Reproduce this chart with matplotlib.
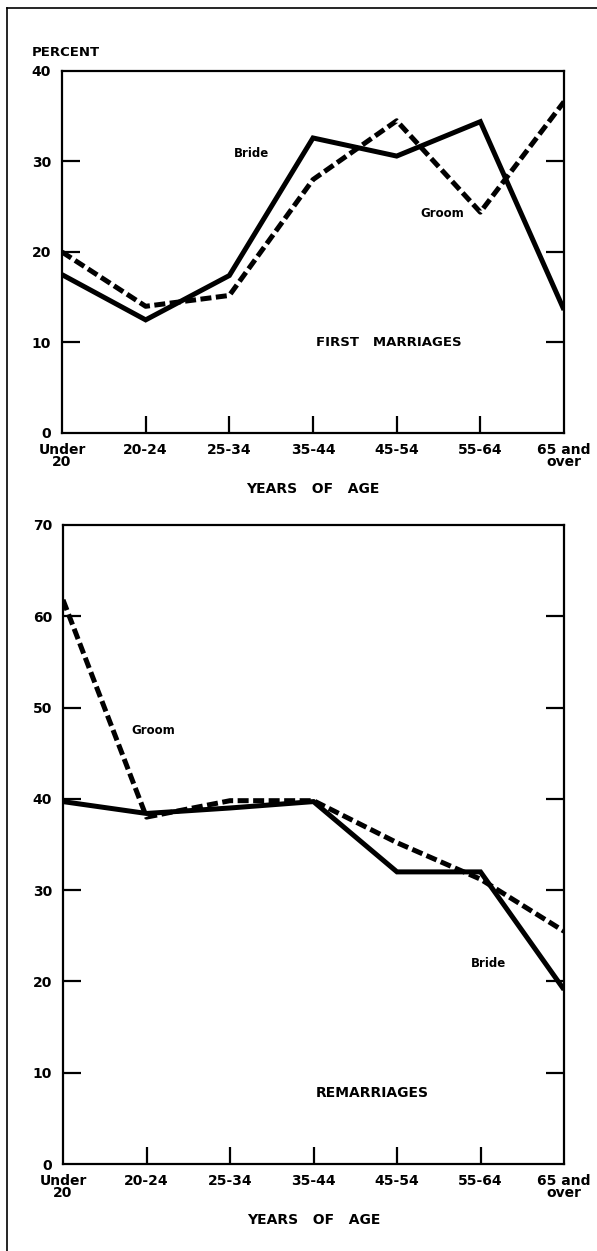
import matplotlib
matplotlib.use("Agg")
import matplotlib.pyplot as plt
from matplotlib.lines import Line2D

ages = ["Under\n20", "20-24", "25-34", "35-44", "45-54", "55-64", "65 and\nover"]

first_bride = [17.5, 12.5, 17.4, 32.6, 30.6, 34.4, 13.6]
first_groom = [20.0, 14.0, 15.2, 28.0, 34.5, 24.4, 36.6]

re_bride = [39.7, 38.4, 39.0, 39.7, 32.0, 32.0, 19.1]
re_groom = [61.8, 38.0, 39.8, 39.8, 35.2, 31.2, 25.5]

W, H = 597, 1251
plt.rcParams["font.family"] = ["DejaVu Sans"]
plt.rcParams["font.weight"] = "bold"
plt.rcParams["axes.labelweight"] = "bold"

fig = plt.figure(figsize=(W / 100, H / 100), dpi=100)


def px_axes(left, top, right, bottom):
    return fig.add_axes([left / W, 1 - bottom / H, (right - left) / W, (bottom - top) / H])


def draw_panel(ax, bride, groom, ymax, yticks):
    x = list(range(len(ages)))
    ax.plot(x, bride, color="black", lw=3.6, solid_joinstyle="miter", solid_capstyle="butt")
    ax.plot(x, groom, color="black", lw=3.6, linestyle=(0, (2.2, 0.9)), dash_capstyle="butt")
    ax.set_xlim(0, len(ages) - 1)
    ax.set_ylim(0, ymax)
    for s in ax.spines.values():
        s.set_linewidth(1.6)
    ax.set_yticks(yticks)
    ax.set_yticklabels([str(v) for v in yticks], fontsize=10)
    ax.tick_params(axis="y", direction="in", length=13, width=1.6, left=True, right=True, pad=8)
    ax.set_xticks(x)
    ax.set_xticklabels(ages, fontsize=10, linespacing=0.8)
    ax.tick_params(axis="x", direction="in", length=12, width=1.6, pad=7)
    ticks = ax.xaxis.get_major_ticks()
    ticks[0].tick1line.set_visible(False)
    ticks[-1].tick1line.set_visible(False)
    yt = ax.yaxis.get_major_ticks()
    for t in (yt[0], yt[-1]):
        t.tick1line.set_visible(False)
        t.tick2line.set_visible(False)
    ax.set_xlabel("YEARS   OF   AGE", fontsize=10, labelpad=10)


ax1 = px_axes(62, 71, 564, 433)
draw_panel(ax1, first_bride, first_groom, 40, [0, 10, 20, 30, 40])
ax1.text(2.27, 30.9, "Bride", fontsize=8.5, ha="center", va="center")
ax1.text(4.54, 24.2, "Groom", fontsize=8.5, ha="center", va="center")
ax1.text(3.91, 10, "FIRST   MARRIAGES", fontsize=9.5, ha="center", va="center")
fig.text(32 / W, 1 - 52 / H, "PERCENT", fontsize=9.5, ha="left", va="center")

ax2 = px_axes(63, 525, 564, 1164)
draw_panel(ax2, re_bride, re_groom, 70, [0, 10, 20, 30, 40, 50, 60, 70])
ax2.text(1.08, 47.5, "Groom", fontsize=8.5, ha="center", va="center")
ax2.text(5.10, 22.0, "Bride", fontsize=8.5, ha="center", va="center")
ax2.text(3.70, 7.8, "REMARRIAGES", fontsize=10, ha="center", va="center")

# outer frame (left and top edges)
fig.add_artist(Line2D([7 / W, 7 / W], [0, 1 - 8 / H], color="black", lw=1.2, transform=fig.transFigure))
fig.add_artist(Line2D([7 / W, 1], [1 - 8 / H, 1 - 8 / H], color="black", lw=1.2, transform=fig.transFigure))

fig.savefig("out.png", dpi=100)
